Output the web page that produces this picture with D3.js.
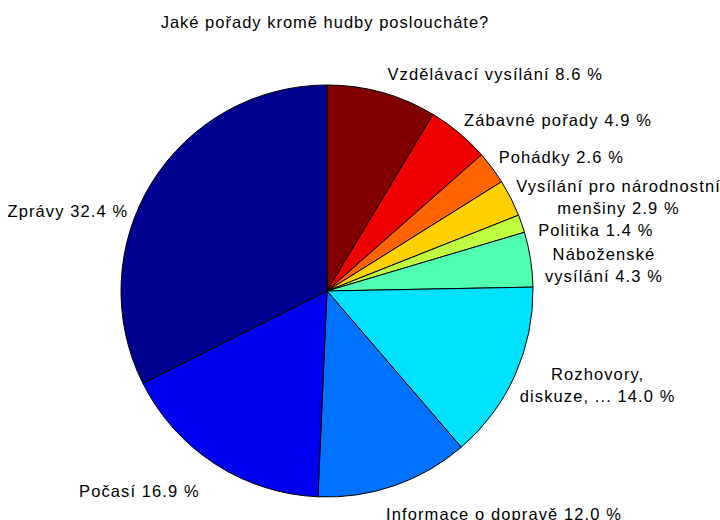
<!DOCTYPE html>
<html>
<head>
<meta charset="utf-8">
<script src="https://cdn.jsdelivr.net/npm/d3@7"></script>
<style>
  body { margin: 0; background: #fff; }
  text { font-family: "Liberation Sans", Arial, sans-serif; fill: #000; }
</style>
</head>
<body>
<div id="container"></div>
<script>
/**
 * DATA
 * */
const title = "Jaké pořady kromě hudby posloucháte?";

const categories = [
  "Vzdělávací vysílání",
  "Zábavné pořady",
  "Pohádky",
  "Vysílání pro národnostní|menšiny",
  "Politika",
  "Náboženské|vysílání",
  "Rozhovory,|diskuze, ...",
  "Informace o dopravě",
  "Počasí",
  "Zprávy"
];

const percents = [8.6, 4.9, 2.6, 2.9, 1.4, 4.3, 14.0, 12.0, 16.9, 32.4];

const colors = [
  "#800000", "#ee0000", "#ff6400", "#ffd000", "#c0ff40",
  "#50ffb0", "#00e0ff", "#0072ff", "#0000f0", "#000090"
];

// per-label nudges (layout only), [dx, dy]
const labelNudge = [
  [0, 2], [-8, 3], [-10, 2], [-13, 8], [-3, 13],
  [-6, 9], [-14, 2], [-15, 9], [-4, 10], [-6, 39]
];

/**
 * CONSTANTS
 * */
const width = 720,
  height = 520,
  cx = 327,
  cy = 291,
  radius = 206,
  fontSize = 16.5,
  spacing = 1.1,
  lineHeight = 22;

const svg = d3.select("#container")
  .append("svg")
  .attr("width", width)
  .attr("height", height);

svg.append("text")
  .attr("x", 325)
  .attr("y", 28)
  .attr("text-anchor", "middle")
  .style("font-size", fontSize + "px")
  .style("letter-spacing", "1px")
  .text(title);

const pie = d3.pie()
  .value(d => d)
  .sort(null);

const arcs = pie(percents);

const arc = d3.arc()
  .innerRadius(0)
  .outerRadius(radius);

const g = svg.append("g")
  .attr("transform", `translate(${cx},${cy})`);

g.selectAll("path.slice")
  .data(arcs)
  .join("path")
  .attr("class", "slice")
  .attr("d", arc)
  .attr("fill", (d, i) => colors[i])
  .attr("stroke", "#000")
  .attr("stroke-width", 1);

// labels placed at 1.1 r along mid angle
const labelR = radius * 1.1;

g.selectAll("text.label")
  .data(arcs)
  .join("text")
  .attr("class", "label")
  .style("font-size", fontSize + "px")
  .style("letter-spacing", spacing + "px")
  .each(function (d, i) {
    const mid = (d.startAngle + d.endAngle) / 2;
    const x = labelR * Math.sin(mid) + labelNudge[i][0];
    const y = -labelR * Math.cos(mid) + labelNudge[i][1];
    const right = Math.sin(mid) >= 0;
    const lines = (categories[i] + " " + d.data.toFixed(1) + " %").split("|");
    const t = d3.select(this);

    lines.forEach(ln => t.append("tspan").text(ln));
    const spans = t.selectAll("tspan").nodes();
    const blockW = d3.max(spans, n => n.getComputedTextLength());
    const blockX = right ? x + blockW / 2 : x - blockW / 2;
    const y0 = y - (lines.length - 1) * lineHeight / 2;

    t.attr("text-anchor", "middle");
    spans.forEach((n, k) => {
      d3.select(n)
        .attr("x", blockX)
        .attr("y", y0 + k * lineHeight)
        .attr("dy", "0.35em");
    });
  });
</script>
</body>
</html>
